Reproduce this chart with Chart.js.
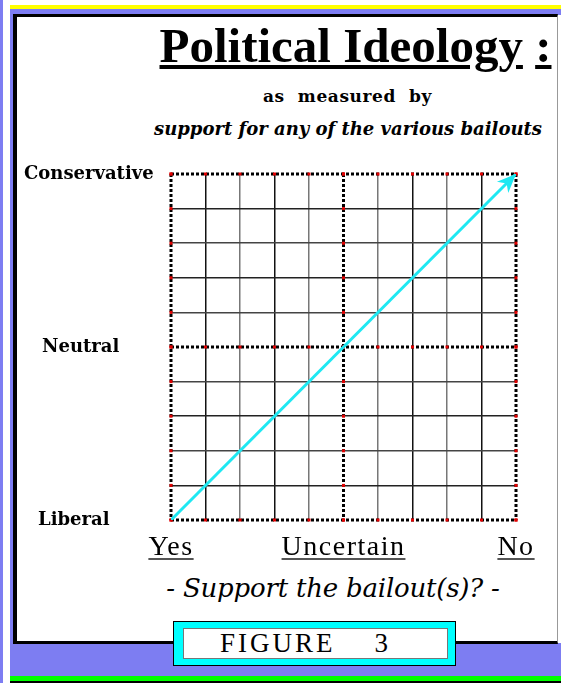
<!DOCTYPE html>
<html>
<head>
<meta charset="utf-8">
<script src="https://cdn.jsdelivr.net/npm/chart.js@4"></script>
<style>
  html, body { margin: 0; padding: 0; background: #fff; }
  #page { position: relative; width: 561px; height: 683px; overflow: hidden; background: #fff; }
  .blk { position: absolute; }
  .blue { background: #7d7df2; }
  #panel { position: absolute; left: 13px; top: 14px; width: 545px; height: 630px; box-sizing: border-box;
           background: #fff; border-left: 4px solid #000; border-top: 3px solid #000; border-bottom: 3px solid #000;
           border-right: 1px solid #999; }
  .txt { position: absolute; white-space: pre; text-align: center; color: #000; }
  #title { left: 0; width: 711px; top: 17px; font: bold 49px "Liberation Serif", serif; }
  #sub1 { left: 0; width: 695px; top: 86px; font: bold 17px "DejaVu Serif", serif; letter-spacing: 0.6px; }
  #sub2 { left: 0; width: 696px; top: 118px; font: italic bold 18px "DejaVu Serif", serif; }
  #question { left: 0; width: 666px; top: 573px; font: italic 26px "DejaVu Serif", serif; letter-spacing: -0.2px; }
  #figOuter { position: absolute; left: 173px; top: 621px; width: 283px; height: 45px; box-sizing: border-box;
              background: #00ffff; border: 1px solid #000; }
  #figInner { position: absolute; left: 9px; top: 6px; width: 265px; height: 31px; box-sizing: border-box;
              background: #fff; border: 1px solid #777; font: 27px "Liberation Serif", serif; letter-spacing: 3px;
              line-height: 29px; padding-left: 36px; white-space: pre; }
  canvas { position: absolute; left: 0; top: 0; }
</style>
</head>
<body>
<div id="page">
  <div class="blk blue" style="left:0;top:0;width:3px;height:683px"></div>
  <div class="blk" style="left:10px;top:5px;width:551px;height:4px;background:#ffff00"></div>
  <div class="blk blue" style="left:10px;top:9px;width:551px;height:6px"></div>
  <div class="blk blue" style="left:10px;top:9px;width:4px;height:668px"></div>
  <div class="blk blue" style="left:10px;top:643px;width:551px;height:34px"></div>
  <div class="blk" style="left:10px;top:676px;width:551px;height:5px;background:#00ff00"></div>
  <div class="blk" style="left:10px;top:681px;width:551px;height:2px;background:#000"></div>
  <div id="panel"></div>
  <div class="txt" id="title"><u>Political Ideology</u> <u>:</u></div>
  <div class="txt" id="sub1">as  measured  by</div>
  <div class="txt" id="sub2">support for any of the various bailouts</div>
  <div class="txt" id="question">- Support the bailout(s)? -</div>
  <div id="figOuter"><div id="figInner">FIGURE    3</div></div>
  <canvas id="chart" width="561" height="683"></canvas>
</div>
<script>
// categories on the two axes
const xCategories = ["Yes", "Uncertain", "No"];
const xCategoryValues = [0, 5, 10];
const yCategories = ["Liberal", "Neutral", "Conservative"];
const yCategoryValues = [0, 5, 10];
// scale range (0 .. 10, one grid cell per unit)
const axisMin = 0;
const axisMax = 10;
const axisStep = 1;
// the diagonal arrow
const trendX = [0, 10];
const trendY = [0, 10];

const yLabelLeft = [38, 42, 24]; // left edge of each y label

// dotted border / centre lines, red dots, category labels, arrow head
const framePlugin = {
    id: "framePlugin",
    beforeDatasetsDraw(chart) {
        const c = chart.ctx;
        const xs = chart.scales.x, ys = chart.scales.y;
        const area = chart.chartArea;
        c.save();
        c.strokeStyle = "#000";
        c.lineWidth = 3;
        c.setLineDash([3, 2]);
        yCategoryValues.forEach(v => {
            const py = ys.getPixelForValue(v);
            c.beginPath(); c.moveTo(area.left, py); c.lineTo(area.right, py); c.stroke();
        });
        xCategoryValues.forEach(v => {
            const px = xs.getPixelForValue(v);
            c.beginPath(); c.moveTo(px, area.top); c.lineTo(px, area.bottom); c.stroke();
        });
        c.setLineDash([]);
        c.fillStyle = "#e00000";
        for (let i = axisMin; i <= axisMax; i += axisStep) {
            yCategoryValues.forEach(v => {
                c.fillRect(xs.getPixelForValue(i) - 1.5, ys.getPixelForValue(v) - 1.5, 3, 3);
            });
            xCategoryValues.forEach(v => {
                c.fillRect(xs.getPixelForValue(v) - 1.5, ys.getPixelForValue(i) - 1.5, 3, 3);
            });
        }

        // y labels
        c.fillStyle = "#000";
        c.font = "bold 18px 'DejaVu Serif', serif";
        c.textAlign = "left";
        c.textBaseline = "middle";
        yCategories.forEach((lab, i) => {
            c.fillText(lab, yLabelLeft[i], ys.getPixelForValue(yCategoryValues[i]));
        });

        // x labels, underlined
        c.font = "28px 'Liberation Serif', serif";
        c.letterSpacing = "1.5px";
        c.textAlign = "center";
        c.textBaseline = "alphabetic";
        xCategories.forEach((lab, i) => {
            const px = xs.getPixelForValue(xCategoryValues[i]);
            const w = c.measureText(lab).width;
            c.fillStyle = "#000";
            c.fillText(lab, px, area.bottom + 35);
            c.fillStyle = "#555";
            c.fillRect(px - w / 2, area.bottom + 38, w, 2);
        });
        c.restore();
    },
    afterDatasetsDraw(chart) {
        const c = chart.ctx;
        const xs = chart.scales.x, ys = chart.scales.y;
        const n = trendX.length;
        const x1 = xs.getPixelForValue(trendX[n - 1]), y1 = ys.getPixelForValue(trendY[n - 1]);
        const x0 = xs.getPixelForValue(trendX[n - 2]), y0 = ys.getPixelForValue(trendY[n - 2]);
        const ang = Math.atan2(y1 - y0, x1 - x0);
        const len = 19, half = 8;
        c.save();
        c.translate(x1, y1);
        c.rotate(ang);
        c.fillStyle = "#1ee8f2";
        c.beginPath();
        c.moveTo(0, 0);
        c.lineTo(-len, -half);
        c.lineTo(-len * 0.7, 0);
        c.lineTo(-len, half);
        c.closePath();
        c.fill();
        c.restore();
    }
};

const gridColor = (ctx, odd, even) => {
    const v = ctx.tick.value;
    if (xCategoryValues.includes(v)) return "rgba(0,0,0,0)";
    return v % 2 ? odd : even;
};

new Chart(document.getElementById("chart"), {
    type: "scatter",
    data: {
        datasets: [{
            data: trendX.map((x, i) => ({ x: x, y: trendY[i] })),
            showLine: true,
            borderColor: "#1ee8f2",
            borderWidth: 3,
            pointRadius: 0
        }]
    },
    options: {
        responsive: false,
        animation: false,
        layout: { padding: { left: 171, top: 174, right: 45, bottom: 163 } },
        plugins: { legend: { display: false }, tooltip: { enabled: false } },
        scales: {
            x: {
                type: "linear", min: axisMin, max: axisMax,
                ticks: { display: false, stepSize: axisStep },
                grid: { drawTicks: false, lineWidth: 1.5, color: ctx => gridColor(ctx, "#111", "#777") },
                border: { display: false }
            },
            y: {
                type: "linear", min: axisMin, max: axisMax,
                ticks: { display: false, stepSize: axisStep },
                grid: { drawTicks: false, lineWidth: 1.5, color: ctx => gridColor(ctx, "#222", "#444") },
                border: { display: false }
            }
        }
    },
    plugins: [framePlugin]
});
</script>
</body>
</html>
